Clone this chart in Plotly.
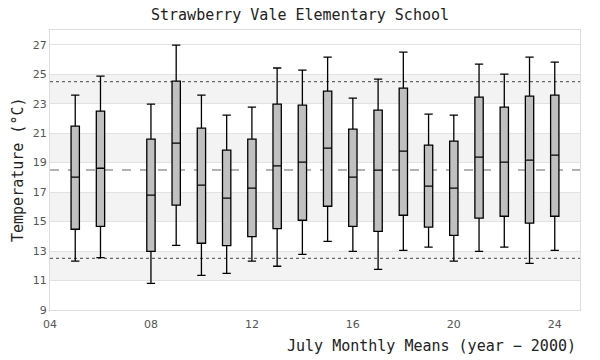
import plotly.graph_objects as go

years = [5, 6, 8, 9, 10, 11, 12, 13, 14, 15, 16, 17, 18, 19, 20, 21, 22, 23, 24]
lower = [12.31, 12.55, 10.81, 13.39, 11.35, 11.49, 12.31, 11.97, 12.78, 13.66, 12.98, 11.76, 13.05, 13.26, 12.31, 12.98, 13.26, 12.17, 13.05]
q1 = [14.48, 14.68, 12.98, 16.11, 13.53, 13.37, 13.98, 14.52, 15.09, 16.04, 14.68, 14.34, 15.43, 14.62, 14.07, 15.23, 15.36, 14.89, 15.36]
median = [18.01, 18.62, 16.79, 20.32, 17.47, 16.59, 17.27, 18.78, 19.03, 19.98, 18.01, 18.49, 19.78, 17.40, 17.27, 19.37, 19.03, 19.17, 19.51]
q3 = [21.48, 22.50, 20.60, 24.53, 21.34, 19.85, 20.60, 22.97, 22.90, 23.85, 21.27, 22.56, 24.06, 20.19, 20.46, 23.45, 22.77, 23.51, 23.58]
upper = [23.58, 24.87, 22.97, 26.98, 23.58, 22.22, 22.77, 25.42, 25.28, 26.16, 23.38, 24.67, 26.50, 22.29, 22.22, 25.69, 25.00, 26.16, 25.82]

x_ticks = [4, 8, 12, 16, 20, 24]
x_ticktext = ["04", "08", "12", "16", "20", "24"]
y_ticks = [9, 11, 13, 15, 17, 19, 21, 23, 25, 27]
bands = [(11, 13), (15, 17), (19, 21), (23, 25)]
mean_line = 18.5
limit_lines = [12.5, 24.5]

mono = "DejaVu Sans Mono"

fig = go.Figure()
fig.add_trace(go.Box(
    x=years, q1=q1, median=median, q3=q3,
    lowerfence=lower, upperfence=upper,
    width=0.33, whiskerwidth=1,
    fillcolor="#c0c0c0",
    line=dict(color="#000000", width=1.3),
    boxpoints=False, showlegend=False, hoverinfo="skip",
))

shapes = []
for y0, y1 in bands:
    shapes.append(dict(type="rect", xref="paper", yref="y", x0=0, x1=1, y0=y0, y1=y1,
                       fillcolor="#f3f3f3", line=dict(width=0), layer="below"))
shapes.append(dict(type="line", xref="paper", yref="y", x0=0, x1=1, y0=mean_line, y1=mean_line,
                   line=dict(color="#666666", width=1.2, dash="dash"), layer="below"))
for v in limit_lines:
    shapes.append(dict(type="line", xref="paper", yref="y", x0=0, x1=1, y0=v, y1=v,
                       line=dict(color="#666666", width=1.2, dash="dot"), layer="below"))

fig.update_layout(
    width=600, height=360,
    margin=dict(l=50, r=20, t=30, b=50, autoexpand=False),
    paper_bgcolor="white", plot_bgcolor="white",
    shapes=shapes,
    title=dict(text="Strawberry Vale Elementary School", x=0.5, xanchor="center",
               yref="container", y=0.96, yanchor="middle",
               font=dict(family=mono, size=15, color="#222222")),
    xaxis=dict(range=[4, 25], tickvals=x_ticks, ticktext=x_ticktext,
               showgrid=False, zeroline=False, ticks="outside", ticklen=4, tickcolor="rgba(0,0,0,0)",
               showline=True, linecolor="#dddddd", mirror=True, linewidth=1, automargin=False,
               tickfont=dict(family="DejaVu Sans", size=11, color="#555555")),
    yaxis=dict(range=[9, 28], tickvals=y_ticks, automargin=False,
               showgrid=True, gridcolor="#e2e2e2", gridwidth=1, zeroline=False,
               ticks="",
               showline=True, linecolor="#dddddd", mirror=True, linewidth=1,
               tickfont=dict(family="DejaVu Sans", size=11, color="#555555")),
    annotations=[
        dict(text="July Monthly Means (year − 2000)", xref="paper", yref="paper",
             x=1, y=0, xanchor="right", yanchor="middle", yshift=-36, xshift=-2,
             showarrow=False, font=dict(family=mono, size=15, color="#222222")),
        dict(text="Temperature (°C)", xref="paper", yref="paper", textangle=-90,
             x=0, y=0.5, xanchor="center", yanchor="middle", xshift=-32,
             showarrow=False, font=dict(family=mono, size=15, color="#222222")),
    ],
)
fig.write_html("out.html", config={"displayModeBar": False},
               post_script="document.body.style.margin='0';")
